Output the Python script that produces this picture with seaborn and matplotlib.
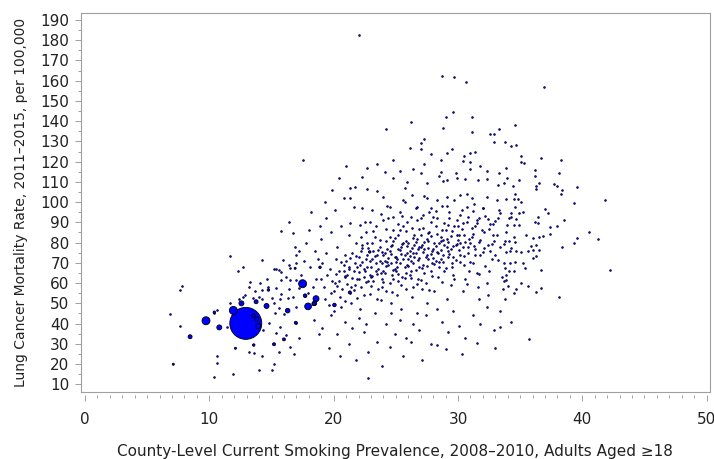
import matplotlib
matplotlib.use("Agg")
import matplotlib.pyplot as plt
import seaborn as sns
import pandas as pd
from matplotlib.ticker import MultipleLocator

# large counties: smoking %, mortality rate, population (thousands)
big_smoking = [12.93, 9.73, 11.93, 17.5, 17.94, 18.58, 10.8, 12.58, 14.6, 13.94,
               16.3, 18.45, 8.45, 13.76, 13.8, 13.55, 17.7, 20.06, 18.4, 16.95,
               16.0, 15.2, 21.3, 10.4, 13.57, 14.75, 22.9, 18.9, 12.1, 16.9, 7.1]
big_mortality = [40.1, 41.4, 46.5, 59.7, 48.5, 52.3, 38.1, 50.0, 48.7, 38.8,
                 46.4, 50.0, 33.5, 50.8, 42.1, 44.0, 53.8, 49.2, 49.7, 40.4,
                 32.2, 29.8, 55.4, 45.6, 29.4, 56.6, 75.4, 67.8, 27.8, 67.3, 19.9]
big_pop = [9800, 612, 612, 612, 440, 345, 240, 240, 240, 240,
           200, 200, 153, 153, 153, 120, 120, 120, 120, 86,
           86, 86, 86, 60, 60, 60, 60, 60, 40, 40, 40]

# small counties, read region by region
core_counties = [
    (19.2, 58), (19.5, 64), (19.8, 55), (19.1, 70), (19.6, 49), (19.9, 61), (19.4, 75), (19.7, 67), (19.3, 52), (19.0, 62),
    (20.1, 60), (20.4, 66), (20.7, 57), (20.2, 72), (20.9, 63), (20.5, 53), (20.3, 78), (20.8, 69), (20.6, 48), (20.0, 56), (20.4, 61), (20.9, 74),
    (21.1, 64), (21.4, 58), (21.7, 70), (21.2, 67), (21.9, 62), (21.5, 75), (21.3, 55), (21.8, 80), (21.6, 66), (21.0, 71), (21.4, 50), (21.7, 59), (21.2, 84), (21.9, 68),
    (22.1, 69), (22.4, 63), (22.7, 74), (22.2, 58), (22.9, 71), (22.5, 66), (22.3, 79), (22.8, 61), (22.6, 85), (22.0, 73), (22.4, 54), (22.7, 68), (22.2, 76), (22.9, 64), (22.5, 90), (22.1, 47), (22.6, 72),
    (23.1, 72), (23.4, 66), (23.7, 78), (23.2, 61), (23.9, 70), (23.5, 74), (23.3, 83), (23.8, 65), (23.6, 57), (23.0, 68), (23.4, 88), (23.7, 71), (23.2, 76), (23.9, 62), (23.5, 52), (23.1, 80), (23.6, 67), (23.8, 94), (23.3, 45), (23.0, 63),
    (24.1, 75), (24.4, 69), (24.7, 64), (24.2, 81), (24.9, 73), (24.5, 60), (24.3, 77), (24.8, 86), (24.6, 70), (24.0, 66), (24.4, 92), (24.7, 79), (24.2, 56), (24.9, 67), (24.5, 83), (24.1, 71), (24.6, 50), (24.8, 62), (24.3, 98), (24.0, 74), (24.5, 76),
    (25.1, 72), (25.4, 78), (25.7, 68), (25.2, 84), (25.9, 75), (25.5, 63), (25.3, 70), (25.8, 81), (25.6, 88), (25.0, 66), (25.4, 59), (25.7, 74), (25.2, 77), (25.9, 69), (25.5, 93), (25.1, 54), (25.6, 80), (25.8, 65), (25.3, 86), (25.0, 73), (25.4, 47), (25.7, 100), (25.2, 61),
    (26.1, 76), (26.4, 70), (26.7, 82), (26.2, 66), (26.9, 78), (26.5, 73), (26.3, 87), (26.8, 62), (26.6, 75), (26.0, 80), (26.4, 58), (26.7, 91), (26.2, 71), (26.9, 68), (26.5, 84), (26.1, 64), (26.6, 97), (26.8, 77), (26.3, 53), (26.0, 72), (26.5, 79), (26.7, 45),
    (27.1, 79), (27.4, 73), (27.7, 85), (27.2, 69), (27.9, 76), (27.5, 82), (27.3, 65), (27.8, 90), (27.6, 72), (27.0, 78), (27.4, 60), (27.7, 95), (27.2, 87), (27.9, 70), (27.5, 74), (27.1, 57), (27.6, 81), (27.8, 66), (27.3, 103), (27.0, 84), (27.5, 50),
    (28.1, 80), (28.4, 75), (28.7, 86), (28.2, 71), (28.9, 79), (28.5, 68), (28.3, 92), (28.8, 74), (28.6, 83), (28.0, 77), (28.4, 63), (28.7, 98), (28.2, 88), (28.9, 66), (28.5, 80), (28.1, 56), (28.6, 72), (28.3, 47),
    (29.1, 82), (29.4, 77), (29.7, 88), (29.2, 73), (29.9, 84), (29.5, 70), (29.3, 95), (29.8, 79), (29.6, 64), (29.0, 86), (29.4, 59), (29.7, 101), (29.2, 76), (29.9, 91), (29.5, 68), (29.1, 52),
    (30.1, 84), (30.4, 78), (30.7, 90), (30.2, 74), (30.9, 82), (30.5, 69), (30.3, 96), (30.8, 75), (30.6, 62), (30.0, 88), (30.4, 56), (30.7, 104), (30.2, 80), (30.9, 66),
    (31.1, 83), (31.4, 77), (31.7, 92), (31.2, 70), (31.9, 86), (31.5, 65), (31.3, 99), (31.8, 74), (31.6, 58), (31.0, 80), (31.4, 88), (31.7, 52),
    (32.1, 85), (32.4, 79), (32.7, 72), (32.2, 93), (32.9, 81), (32.5, 66), (32.3, 60), (32.8, 89), (32.6, 76), (32.0, 97), (32.4, 54),
    (33.1, 84), (33.4, 78), (33.7, 70), (33.2, 92), (33.9, 85), (33.5, 63), (33.3, 96), (33.0, 74), (33.6, 57),
]

core_counties_2 = [
    (20.2, 64.5), (20.6, 70.5), (21.1, 59.5), (21.5, 62.5), (21.8, 73.5), (22.0, 65.5), (22.3, 70.5), (22.6, 60.5),
    (22.8, 77.5), (23.0, 58.5), (23.3, 73.5), (23.5, 64.5), (23.7, 81.5), (23.9, 75.5), (24.0, 60.5), (24.2, 68.5),
    (24.4, 72.5), (24.6, 78.5), (24.8, 66.5), (24.9, 82.5), (25.0, 70.5), (25.2, 64.5), (25.4, 74.5), (25.5, 79.5),
    (25.7, 62.5), (25.8, 85.5), (26.0, 68.5), (26.1, 73.5), (26.3, 77.5), (26.4, 82.5), (26.6, 66.5), (26.8, 71.5),
    (26.9, 86.5), (27.0, 61.5), (27.2, 75.5), (27.3, 80.5), (27.5, 68.5), (27.6, 77.5), (27.8, 83.5), (27.9, 63.5),
    (28.0, 72.5), (28.2, 78.5), (28.3, 84.5), (28.5, 70.5), (28.6, 76.5), (28.8, 81.5), (28.9, 89.5), (29.0, 67.5),
    (29.2, 80.5), (29.3, 74.5), (29.5, 85.5), (29.6, 78.5), (29.8, 71.5), (30.0, 81.5), (30.1, 76.5), (30.3, 86.5),
    (30.5, 73.5), (30.6, 80.5), (30.8, 92.5), (31.0, 70.5), (31.2, 84.5), (31.3, 78.5), (31.5, 89.5), (31.8, 81.5),
    (32.0, 75.5), (32.2, 68.5), (32.5, 86.5), (32.7, 79.5), (33.0, 90.5), (33.2, 71.5),
    (20.3, 58.8), (20.8, 66.2), (21.3, 72.6), (21.6, 56.4), (22.0, 61.8), (22.4, 67.2), (22.7, 79.8), (23.1, 63.6),
    (23.4, 69.8), (23.6, 76.4), (23.9, 58.2), (24.1, 64.8), (24.3, 70.2), (24.6, 74.4), (24.8, 80.6), (25.1, 67.8),
    (25.3, 76.2), (25.6, 71.8), (25.9, 78.4), (26.2, 62.6), (26.4, 74.8), (26.6, 80.2), (26.9, 72.4), (27.1, 67.4),
    (27.3, 76.8), (27.6, 84.6), (27.8, 74.2), (28.1, 69.4), (28.3, 75.6), (28.6, 80.8), (28.8, 70.6), (29.1, 77.6),
    (29.4, 83.2), (29.6, 72.8), (29.9, 79.2), (30.2, 70.2), (30.5, 83.8), (30.8, 77.8), (31.1, 87.2), (31.4, 73.8),
    (31.7, 80.4), (32.1, 77.4), (32.4, 91.6), (32.8, 83.6), (21.9, 52.4), (22.9, 54.8), (23.8, 51.6), (24.7, 55.4),
    (25.8, 57.2), (26.7, 59.6), (27.7, 56.8), (28.7, 60.4), (29.7, 62.2), (30.7, 59.8), (31.7, 64.6), (20.9, 51.2),
    (24.2, 86.8), (25.2, 89.4), (26.2, 92.6), (27.2, 93.8), (28.2, 95.6), (29.2, 88.6), (30.2, 93.4), (31.2, 95.8),
    (23.2, 85.6), (22.2, 82.6),
]

upper_counties = [
    (22.0, 182.6), (28.7, 162.3), (29.7, 161.7), (30.65, 159.5), (36.9, 157.0), (17.5, 120.8),
    (29.6, 144.7), (29.0, 142.2), (31.1, 142.2), (26.2, 139.4), (24.2, 136.0), (28.8, 136.8), (33.3, 136.0),
    (31.1, 134.5), (32.6, 133.7), (32.9, 133.7), (27.3, 131.0), (27.0, 129.4), (32.9, 129.6), (26.1, 126.9),
    (27.0, 126.4), (29.5, 126.1), (29.1, 124.1), (27.8, 123.6), (31.0, 124.1), (31.4, 124.9), (30.5, 122.9),
    (24.8, 120.8), (28.6, 120.8), (30.4, 120.3), (31.0, 120.0), (31.8, 118.0), (23.5, 118.7), (27.3, 118.8),
    (22.7, 117.0), (25.3, 115.2), (26.4, 116.2), (27.0, 114.5), (28.6, 115.0), (29.8, 114.2), (31.0, 116.4),
    (32.3, 115.5), (33.3, 114.5), (24.1, 115.0), (22.3, 112.3), (24.8, 111.8), (25.9, 110.1), (27.5, 109.3),
    (28.5, 112.9), (28.8, 110.6), (29.1, 110.9), (29.9, 111.9), (30.6, 111.4), (31.6, 110.9), (32.3, 111.4),
    (33.2, 108.5), (21.7, 107.6), (22.7, 106.3), (23.5, 105.6), (25.7, 106.8), (21.3, 102.2), (24.0, 102.7),
    (25.6, 101.1), (26.3, 103.5), (27.5, 102.2), (28.3, 101.1), (29.1, 102.7), (30.2, 103.5), (31.1, 101.9),
    (32.3, 102.7), (33.1, 101.1), (21.6, 97.4), (22.3, 97.0), (23.1, 96.1), (24.5, 97.7), (25.3, 95.3),
    (26.7, 97.7), (27.8, 97.0), (29.1, 98.1), (30.7, 97.7), (32.0, 97.0), (33.4, 94.5), (21.3, 89.6),
    (22.1, 88.7), (22.9, 90.3), (24.0, 91.2), (24.8, 92.8), (25.9, 90.3), (27.0, 92.0), (28.0, 92.8),
    (29.3, 92.0), (30.4, 89.8), (31.5, 91.2), (32.6, 89.2), (20.4, 112.0), (21.0, 118.0), (19.9, 106.0),
]

right_counties = [
    (34.6, 138.1), (33.8, 129.6), (34.3, 127.9), (34.7, 128.4), (35.1, 122.9), (36.7, 121.7), (38.3, 120.8),
    (35.3, 119.2), (35.1, 120.0), (33.9, 117.0), (36.2, 115.9), (38.1, 114.5), (36.2, 112.9), (34.9, 110.8),
    (33.96, 112.1), (33.7, 109.3), (34.4, 108.1), (36.5, 109.6), (37.7, 109.1), (36.3, 107.8), (36.3, 106.6),
    (38.0, 107.8), (39.6, 107.5), (38.4, 106.1), (38.3, 103.9), (41.8, 101.1), (39.3, 99.6), (34.6, 103.9),
    (33.9, 101.7), (34.5, 101.6), (34.8, 101.4), (35.1, 99.9), (34.6, 97.6), (37.0, 96.5), (37.2, 94.6),
    (34.9, 94.5), (35.2, 95.0), (34.3, 94.8), (36.4, 92.5), (38.5, 91.3), (34.1, 92.0), (34.3, 92.5),
    (36.2, 90.3), (36.4, 89.8), (37.4, 87.6), (38.0, 88.4), (34.7, 91.5), (34.5, 88.7), (34.9, 88.7),
    (33.96, 88.7), (40.5, 85.4), (41.3, 81.6), (39.6, 82.3), (39.3, 79.8), (38.4, 78.0), (37.4, 84.3),
    (36.8, 83.4), (36.5, 82.8), (36.0, 82.4), (35.5, 83.8), (35.9, 78.5), (36.3, 78.8), (36.5, 76.4),
    (36.3, 73.4), (36.0, 72.6), (35.4, 67.6), (35.2, 69.9), (36.7, 66.3), (42.2, 66.3), (38.1, 53.3),
    (35.7, 32.2), (34.3, 40.9), (36.7, 57.6), (36.3, 55.5), (34.7, 57.1), (34.5, 55.3), (35.1, 60.2),
    (35.6, 58.6), (34.0, 58.6), (33.8, 52.1), (33.4, 46.4), (33.4, 38.5), (34.6, 70.6), (34.2, 70.1),
    (33.8, 67.3), (34.1, 66.1), (34.5, 66.1), (33.9, 64.0), (33.9, 61.5), (33.7, 61.0), (35.1, 75.5),
    (34.7, 76.0), (34.2, 75.9), (33.9, 75.5), (35.6, 76.0), (36.0, 76.2), (34.5, 82.9), (33.8, 81.0),
    (34.1, 80.8), (34.6, 80.5), (34.3, 77.2), (33.7, 79.5),
]

lower_counties = [
    (18.4, 42), (19.1, 38), (19.8, 44), (20.3, 35), (20.9, 41), (21.5, 38), (21.2, 30), (22.0, 43), (22.4, 36),
    (22.8, 26), (23.5, 31), (24.5, 28.6), (22.8, 13), (24.2, 40), (24.9, 35), (25.3, 42), (25.8, 33), (26.4, 40),
    (26.9, 37), (27.4, 44), (27.8, 30), (28.3, 29.4), (28.7, 41), (29.2, 36), (29.6, 46), (30.1, 39), (30.6, 33),
    (31.2, 44), (31.8, 40), (32.3, 48), (32.9, 37), (30.3, 25), (27.1, 22), (25.6, 24), (21.8, 22), (19.6, 28),
    (20.5, 24), (23.9, 19), (26.2, 31), (29.0, 27.5), (31.5, 30.5), (33.0, 28), (24.6, 45), (22.6, 40), (20.0, 46),
    (18.8, 35),
]

left_counties = [
    (6.8, 44.9), (7.6, 56.6), (7.8, 58.6), (7.6, 38.8), (10.4, 45.4), (10.6, 46.7), (10.6, 24.1), (10.6, 20.7),
    (10.4, 13.8), (11.9, 14.9), (11.7, 73.4), (12.3, 66.1), (12.7, 67.8), (11.4, 38.5), (13.2, 26.0), (13.6, 25.3),
    (14.2, 24.0), (14.0, 17.1), (15.0, 17.1), (15.2, 19.9), (16.5, 28.6), (15.6, 25.8), (16.8, 24.8), (17.2, 32.7),
    (16.4, 90.3), (15.8, 85.9), (16.7, 84.6), (17.0, 73.9), (14.2, 71.4), (15.2, 66.8), (15.4, 66.8), (15.8, 65.6),
    (16.5, 67.3), (17.0, 69.8), (16.2, 63.2), (15.8, 61.5), (16.5, 61.5), (17.2, 57.4), (14.6, 61.9), (14.2, 56.6),
    (13.7, 56.1), (13.3, 60.7), (12.9, 54.1), (13.5, 52.5), (14.0, 53.3), (15.2, 50.0), (15.7, 52.0), (15.6, 47.5),
    (17.0, 48.3), (16.0, 44.6), (15.3, 45.1), (17.0, 40.1), (15.7, 38.5), (14.3, 36.8), (14.8, 40.1), (15.4, 35.2),
    (16.2, 34.4), (13.2, 58.2), (14.1, 59.9), (14.7, 57.9), (15.4, 57.4), (15.8, 54.5), (16.3, 52.5), (16.7, 53.0),
    (16.4, 56.9), (17.0, 61.5), (15.9, 71.4), (15.6, 66.5), (16.4, 68.9), (14.2, 52.0), (15.0, 52.5), (12.4, 52.0),
    (11.7, 50.0), (12.7, 53.0), (18.2, 95), (18.9, 88), (19.3, 100), (17.8, 80), (18.5, 76), (19.0, 82), (18.1, 68),
    (18.7, 72), (17.4, 64), (18.3, 58), (17.9, 55), (18.6, 62), (19.4, 92), (20.1, 96), (20.8, 102), (21.3, 107),
    (20.6, 88), (19.8, 85), (17.2, 76), (18.0, 86), (16.9, 78), (17.6, 71), (20.9, 63.7), (21.2, 67.8), (22.3, 77.2),
    (17.7, 53.6),
]

small = pd.DataFrame(core_counties + core_counties_2 + upper_counties + right_counties
                     + lower_counties + left_counties, columns=["smoking", "mortality"])
big = pd.DataFrame({"smoking": big_smoking, "mortality": big_mortality, "pop": big_pop})
big = big.sort_values("pop", ascending=False)

sns.set_theme(style="ticks")
plt.rcParams["font.family"] = ["DejaVu Sans"]

fig, ax = plt.subplots(figsize=(7.14, 4.59), dpi=100)
fig.subplots_adjust(left=0.113, right=0.9944, top=0.9706, bottom=0.1466)

sns.scatterplot(data=small, x="smoking", y="mortality", s=1.8, color="#0000ff",
                edgecolor="black", linewidth=0.4, legend=False, ax=ax)
sns.scatterplot(data=big, x="smoking", y="mortality", size="pop", sizes=(0, 530),
                size_norm=(0, 9800), color="#0000ff", edgecolor="black",
                linewidth=0.6, legend=False, ax=ax)

ax.set_xlim(-0.35, 50.27)
ax.set_ylim(6.34, 193.2)
ax.xaxis.set_major_locator(MultipleLocator(10))
ax.xaxis.set_minor_locator(MultipleLocator(1))
ax.yaxis.set_major_locator(MultipleLocator(10))
ax.yaxis.set_minor_locator(MultipleLocator(5))

grey = "#a0a0a0"
for side in ["top", "left", "right"]:
    ax.spines[side].set_color(grey)
    ax.spines[side].set_linewidth(0.8)
# x ticks hang a little below the frame, like the original
ax.spines["bottom"].set_position(("outward", 2.5))
ax.spines["bottom"].set_color("none")
ax.plot([0, 1], [0, 0], transform=ax.transAxes, color=grey, lw=0.8, clip_on=False)

ax.tick_params(which="major", length=4, width=0.7, color=grey, labelsize=11, labelcolor="#222222")
ax.tick_params(which="minor", length=2.2, width=0.7, color=grey)
ax.tick_params(axis="x", which="major", pad=8)
ax.tick_params(axis="y", which="major", pad=4)

ax.set_xlabel("County-Level Current Smoking Prevalence, 2008\u20132010, Adults Aged \u226518",
              fontsize=11, color="#222222", labelpad=12)
ax.set_ylabel("Lung Cancer Mortality Rate, 2011\u20132015, per 100,000",
              fontsize=10, color="#222222", labelpad=9)

fig.savefig("out.png", dpi=100)
